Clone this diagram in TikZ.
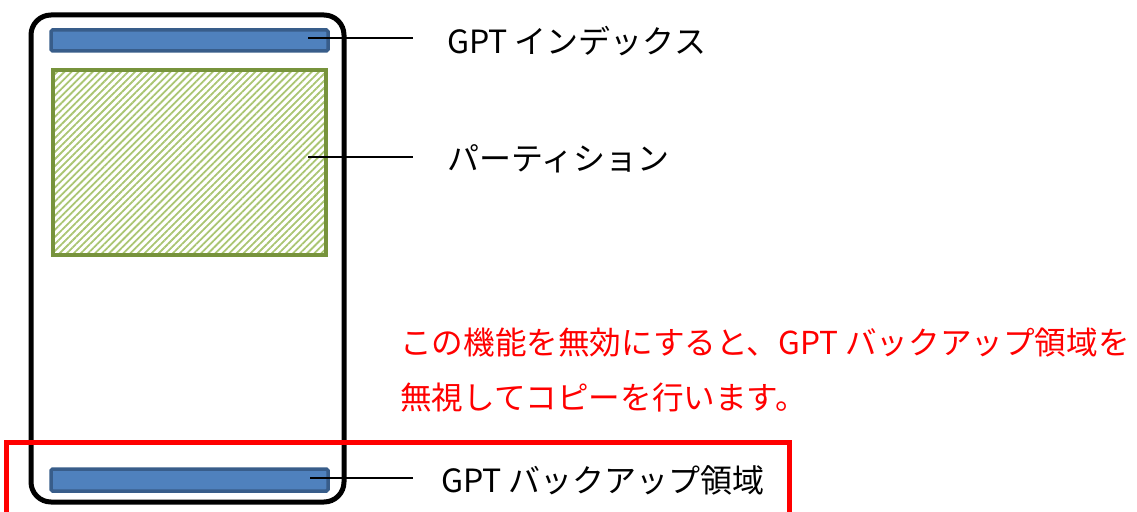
\documentclass[tikz,border=0pt]{standalone}
\usepackage{fontspec}
\newfontfamily\jp{Noto Sans CJK JP}
\usetikzlibrary{patterns.meta}
\definecolor{barfill}{RGB}{79,129,189}
\definecolor{barline}{RGB}{56,93,138}
\definecolor{grnline}{RGB}{119,147,60}
\definecolor{grnhatch}{RGB}{155,187,89}
\tikzset{
  bar/.style={draw=barline, fill=barfill, line width=3.5pt, rounded corners=1.5pt},
  part/.style={draw=grnline, line width=4pt, pattern={Lines[angle=45,distance=5pt,line width=1.8pt]}, pattern color=grnhatch!85},
  lbl/.style={anchor=west, font=\jp\fontsize{32}{37}\selectfont, inner sep=0pt},
  note/.style={anchor=west, font=\jp\fontsize{31.6}{37}\selectfont, inner sep=0pt, text=red},
  leader/.style={draw=black, line width=1.3pt},
}
\begin{document}
\begin{tikzpicture}[x=1pt,y=-1pt]
\useasboundingbox (0,0) rectangle (1137,511);
% outer disk
\draw[line width=5pt, rounded corners=20pt] (31,15) rectangle (344,502);
% elements
\path[bar] (51,30) rectangle (328,51);
\path[part] (53,70) rectangle (326,255);
\path[bar] (51,469) rectangle (328,491);
% red frame
\draw[red, line width=5pt] (6,520) -- (6,442) -- (789,442) -- (789,520);
% labels
\node[lbl] (l1) at (447,41) {GPT インデックス};
\node[lbl] (l2) at (447,159) {パーティション};
\node[lbl] (l3) at (441,480) {GPT バックアップ領域};
\node[note] (n1) at (400,343) {この機能を無効にすると、GPT バックアップ領域を};
\node[note] (n2) at (400,398) {無視してコピーを行います。};
% leaders
\coordinate (c1) at (308,38);
\coordinate (c2) at (308,157);
\coordinate (c3) at (310,478);
\draw[leader] (c1) -- (c1 -| 413,0);
\draw[leader] (c2) -- (c2 -| 413,0);
\draw[leader] (c3) -- (c3 -| 413,0);
\end{tikzpicture}
\end{document}
